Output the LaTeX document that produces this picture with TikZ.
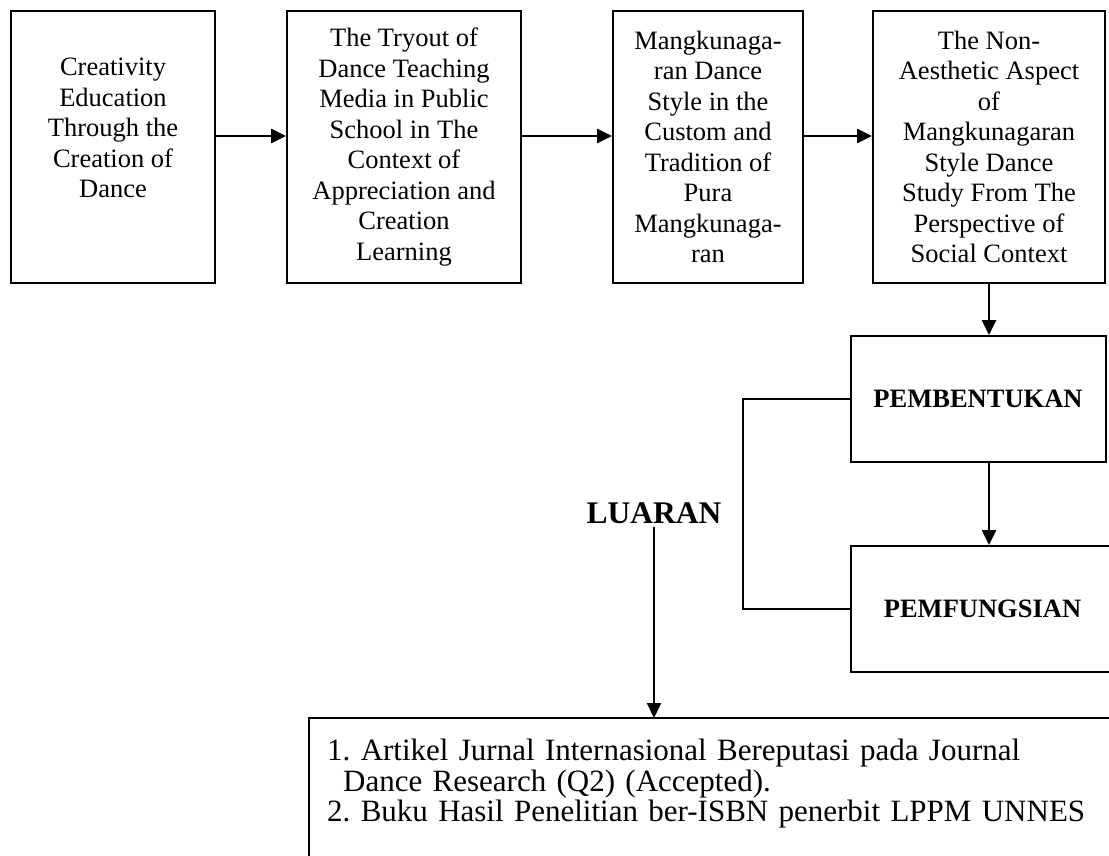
\documentclass[tikz,border=0pt]{standalone}
\usepackage{fontspec}
\setmainfont{Liberation Serif}
\usetikzlibrary{arrows.meta,positioning}

\begin{document}
\begin{tikzpicture}[x=1pt, y=-1pt,
		stage/.style={draw, line width=2pt, rectangle, align=center, inner sep=0pt, minimum height=272pt, font=\fontsize{26.5}{30.5}\selectfont},
		phase/.style={draw, line width=2pt, rectangle, inner sep=0pt, minimum height=126pt, font=\fontsize{26.5}{30.5}\selectfont\bfseries},
		flow/.style={line width=2.6pt, -{Triangle[length=15pt,width=14pt]}},
		link/.style={line width=2pt}]
		\useasboundingbox (0,0) rectangle (1109,856);
		\clip (0,0) rectangle (1109,856);
		% top row of studies
		\node[stage, minimum width=204pt, text depth=38pt] (b1) at (113,147) {Creativity\\Education\\Through the\\Creation of\\Dance};
		\node[stage, minimum width=234pt] (b2) at (404,147) {The Tryout of\\Dance Teaching\\Media in Public\\School in The\\Context of\\Appreciation and\\Creation\\Learning};
		\node[stage, minimum width=190pt] (b3) at (708,147) {Mangkunaga-\\ran Dance\\Style in the\\Custom and\\Tradition of\\Pura\\Mangkunaga-\\ran};
		\node[stage, minimum width=232pt] (b4) at (989,147) {The Non-\\Aesthetic Aspect\\of\\Mangkunagaran\\Style Dance\\Study From The\\Perspective of\\Social Context};
		\draw[flow] ([yshift=11pt]b1.east) -- ([yshift=11pt]b2.west);
		\draw[flow] ([yshift=11pt]b2.east) -- ([yshift=11pt]b3.west);
		\draw[flow] ([yshift=11pt]b3.east) -- ([yshift=11pt]b4.west);
		% phases
		\node[phase, minimum width=255pt] (pb) at (978,399) {PEMBENTUKAN};
		\node[phase, minimum width=263pt] (pf) at (982.5,609) {PEMFUNGSIAN};
		\draw[flow] (b4.south) -- (b4.south |- pb.north);
		\draw[flow] (b4.south |- pb.south) -- (b4.south |- pf.north);
		\coordinate (brk) at (743,399);
		\draw[link] (pb.west) -- (brk) |- (pf.west);
		% output
		\node[font=\fontsize{31.5}{36}\selectfont\bfseries] (luaran) at (654,513) {LUARAN};
		\node[anchor=north west, align=left, inner xsep=18pt, inner ysep=21pt, text width=800pt, font=\fontsize{31}{30.5}\selectfont\frenchspacing] (out) at (309,718) {1. Artikel Jurnal Internasional Bereputasi pada Journal\\\hspace*{16pt}Dance Research (Q2) (Accepted).\\2. Buku Hasil Penelitian ber-ISBN penerbit LPPM UNNES};
		\draw[link] (out.north east) -- (out.north west) -- ++(0,200);
		\draw[flow, line width=2.2pt] (luaran.south) -- (luaran.south |- out.north);
	\end{tikzpicture}
\end{document}
